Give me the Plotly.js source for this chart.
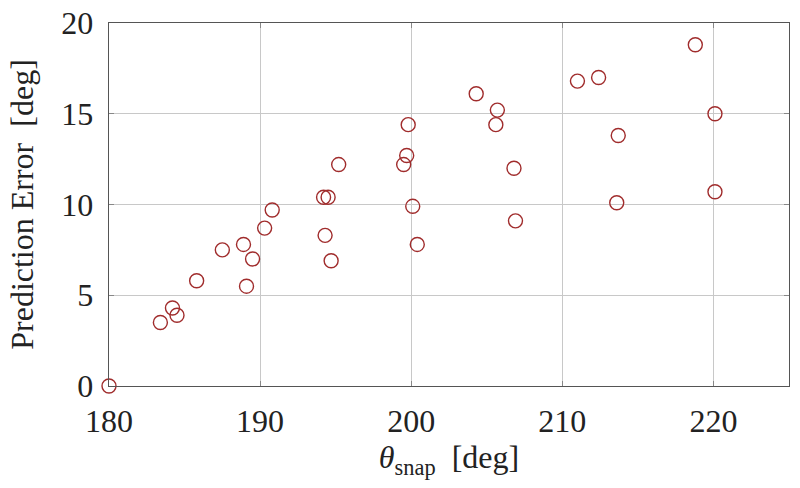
<!DOCTYPE html>
<html>
<head>
<meta charset="utf-8">
<script src="https://cdn.plot.ly/plotly-3.0.1.min.js"></script>
<style>
  html, body { margin: 0; padding: 0; background: #fff; }
  #chart { width: 800px; height: 488px; }
</style>
</head>
<body>
<div id="chart"></div>
<script>
// snap angle (deg) vs prediction error (deg)
const thetaSnap = [
  180.0, 183.4, 184.2, 184.5, 185.8, 187.5, 188.9, 189.5, 189.1,
  190.3, 190.8, 194.2, 194.5, 194.3, 194.7, 195.2, 199.5, 199.7,
  199.8, 200.1, 200.4, 204.3, 205.7, 205.6, 206.8, 206.9, 211.0,
  212.4, 213.7, 213.6, 218.8, 220.1, 220.1
];
const predError = [
  0.0, 3.5, 4.3, 3.9, 5.8, 7.5, 7.8, 7.0, 5.5,
  8.7, 9.7, 10.4, 10.4, 8.3, 6.9, 12.2, 12.2, 12.7,
  14.4, 9.9, 7.8, 16.1, 15.2, 14.4, 12.0, 9.1, 16.8,
  17.0, 13.8, 10.1, 18.8, 15.0, 10.7
];

const xTicks = [180, 190, 200, 210, 220];
const yTicks = [0, 5, 10, 15, 20];

const serif = "Times New Roman";

const trace = {
  x: thetaSnap,
  y: predError,
  type: "scatter",
  mode: "markers",
  marker: {
    symbol: "circle-open",
    size: 14,
    color: "#a02c2c",
    line: { color: "#a02c2c", width: 1.4 }
  },
  cliponaxis: false,
  showlegend: false
};

const axisCommon = {
  showgrid: true,
  gridcolor: "#c8c8c8",
  gridwidth: 1,
  zeroline: false,
  showline: true,
  linecolor: "#555",
  linewidth: 1.3,
  mirror: "ticks",
  ticks: "inside",
  ticklen: 5,
  tickcolor: "#888",
  tickwidth: 1,
  tickfont: { family: serif, size: 32, color: "#222" }
};

const layout = {
  width: 800,
  height: 488,
  font: { family: serif, size: 32, color: "#222" },
  margin: { l: 109, r: 11, t: 23, b: 102 },
  paper_bgcolor: "#fff",
  plot_bgcolor: "#fff",
  xaxis: Object.assign({}, axisCommon, {
    range: [180, 225],
    tickvals: xTicks,
    ticklabelstandoff: 6,
    title: {
      text: "<i>θ</i><sub>snap</sub>\u00a0\u00a0[deg]",
      font: { family: serif, size: 32, color: "#222" },
      standoff: 8
    }
  }),
  yaxis: Object.assign({}, axisCommon, {
    range: [0, 20],
    tickvals: yTicks,
    ticklabelstandoff: 8,
    title: {
      text: "Prediction\u00a0Error\u00a0\u00a0[deg]",
      font: { family: serif, size: 32, color: "#222" },
      standoff: 18
    }
  })
};

Plotly.newPlot("chart", [trace], layout, { displayModeBar: false, staticPlot: true });
</script>
</body>
</html>
